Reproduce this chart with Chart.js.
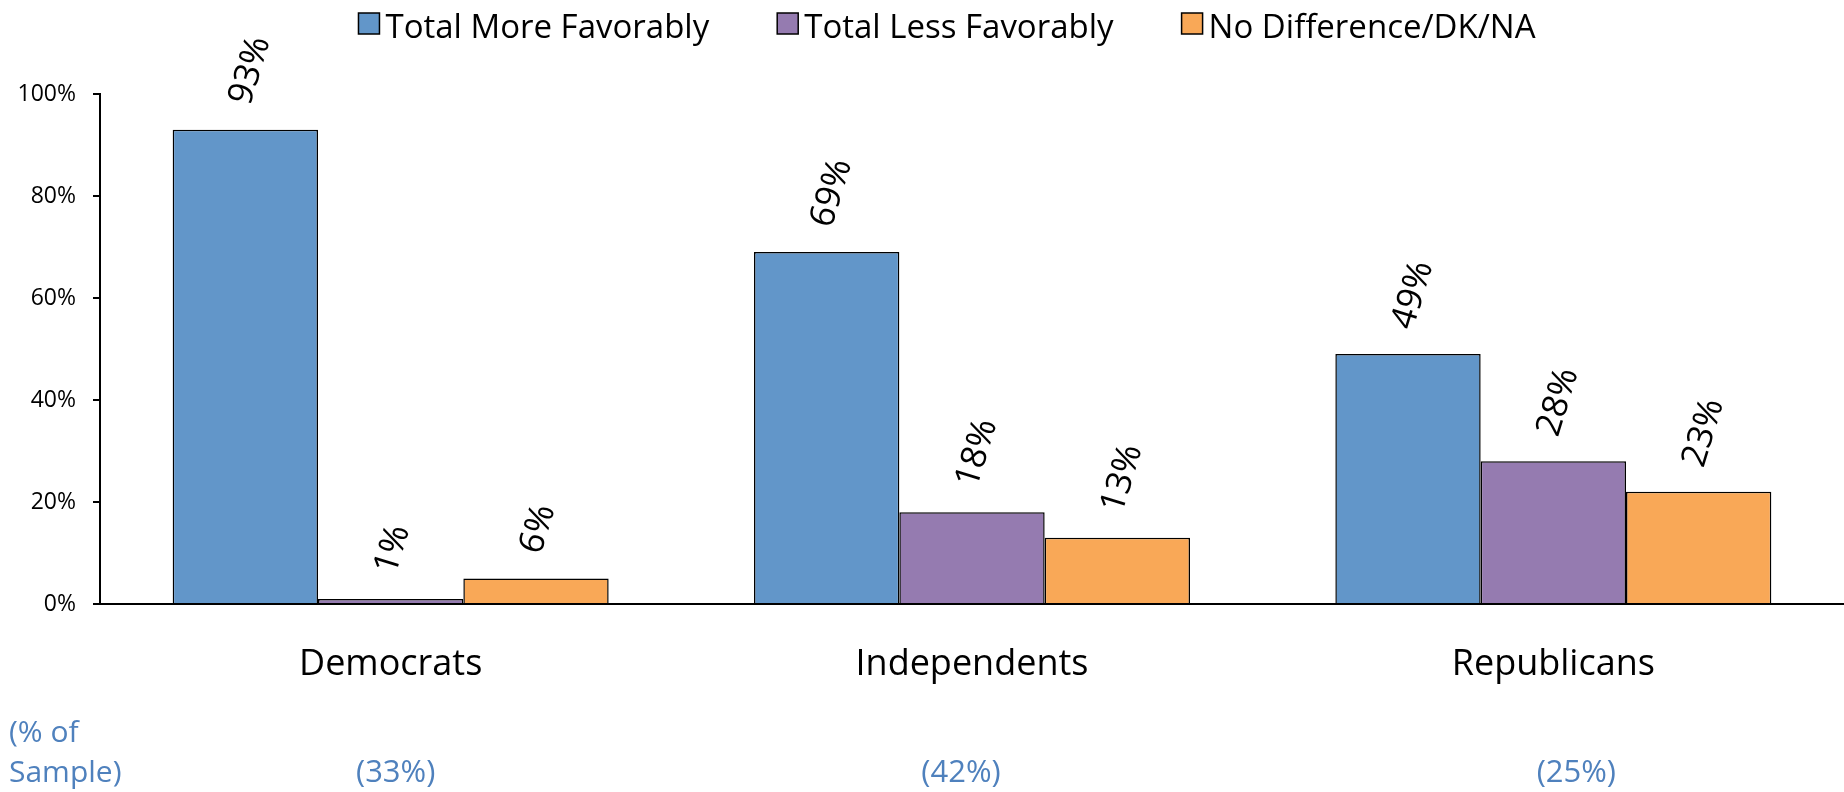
<!DOCTYPE html>
<html>
<head>
<meta charset="utf-8">
<script src="https://cdn.jsdelivr.net/npm/chart.js@4.4.1/dist/chart.umd.min.js"></script>
<style>
  html, body { margin: 0; padding: 0; background: #fff; }
  #wrap { width: 1844px; height: 792px; position: relative; }
</style>
</head>
<body>
<div id="wrap"><canvas id="partyChart"></canvas></div>
<script>
const categories = ["Democrats", "Independents", "Republicans"];
const seriesNames = ["Total More Favorably", "Total Less Favorably", "No Difference/DK/NA"];

// bar heights
const moreFavorably = [93, 69, 49];
const lessFavorably = [1, 18, 28];
const noDifference = [5, 13, 22];

// labels printed above the bars (not always equal to bar height in the source)
const moreLabels = ["93%", "69%", "49%"];
const lessLabels = ["1%", "18%", "28%"];
const noDiffLabels = ["6%", "13%", "23%"];

const sampleShare = ["(33%)", "(42%)", "(25%)"];
const yTicks = [0, 20, 40, 60, 80, 100];

const colors = ["#6296c9", "#957bb0", "#f9a857"];
const FONT = '"Open Sans", "Noto Sans", sans-serif';

// draws value labels, legend and sample shares
const annotate = {
  id: "annotate",
  afterDatasetsDraw(chart) {
    const ctx = chart.ctx;
    const shown = [moreLabels, lessLabels, noDiffLabels];
    ctx.save();

    chart.data.datasets.forEach(function (ds, i) {
      chart.getDatasetMeta(i).data.forEach(function (bar, j) {
        ctx.save();
        ctx.translate(bar.x - 5, bar.y - 26);
        ctx.rotate(-73 * Math.PI / 180);
        ctx.font = "35px " + FONT;
        ctx.fillStyle = "#000";
        ctx.textAlign = "left";
        ctx.textBaseline = "middle";
        ctx.fillText(shown[i][j], 0, 0);
        ctx.restore();
      });
    });

    // legend
    ctx.font = "33px " + FONT;
    const box = 21, gap = 6, spacing = 68;
    const widths = chart.data.datasets.map(function (ds) { return ctx.measureText(ds.label).width; });
    let total = spacing * (widths.length - 1);
    widths.forEach(function (w) { total += box + gap + w; });
    let x = 947 - total / 2;
    chart.data.datasets.forEach(function (ds, i) {
      ctx.fillStyle = ds.backgroundColor;
      ctx.fillRect(x, 13, box, box);
      ctx.lineWidth = 1.5;
      ctx.strokeStyle = "#000";
      ctx.strokeRect(x, 13, box, box);
      ctx.fillStyle = "#000";
      ctx.textAlign = "left";
      ctx.textBaseline = "alphabetic";
      ctx.fillText(ds.label, x + box + gap, 38);
      x += box + gap + widths[i] + spacing;
    });

    // sample share row
    const xScale = chart.scales.x;
    ctx.fillStyle = "#4f81bd";
    ctx.font = "30px " + FONT;
    ctx.textAlign = "left";
    ctx.fillText("(% of", 9, 742);
    ctx.fillText("Sample)", 9, 782);
    ctx.font = "31px " + FONT;
    ctx.textAlign = "center";
    const nudge = [5, -11, 23];
    sampleShare.forEach(function (s, i) {
      ctx.fillText(s, xScale.getPixelForValue(i) + nudge[i], 782);
    });

    ctx.restore();
  }
};

const ctx = document.getElementById("partyChart").getContext("2d");

const partyChart = new Chart(ctx, {
  type: "bar",
  data: {
    labels: categories,
    datasets: [
      { label: seriesNames[0], data: moreFavorably, backgroundColor: colors[0] },
      { label: seriesNames[1], data: lessFavorably, backgroundColor: colors[1] },
      { label: seriesNames[2], data: noDifference, backgroundColor: colors[2] },
    ],
  },
  options: {
    responsive: true,
    maintainAspectRatio: false,
    animation: false,
    devicePixelRatio: 1,
    layout: { padding: { top: 94, left: 0, right: 0, bottom: 0 } },
    datasets: {
      bar: {
        categoryPercentage: 0.75,
        barPercentage: 1.0,
        borderColor: "#000",
        borderWidth: 1.5,
        borderSkipped: "bottom",
      },
    },
    plugins: {
      legend: { display: false },
      tooltip: { enabled: false },
    },
    scales: {
      x: {
        grid: { display: false, drawTicks: false },
        border: { display: true, color: "#000", width: 2 },
        ticks: {
          color: "#000",
          font: { family: FONT, size: 36 },
          padding: 39,
          maxRotation: 0,
        },
        afterFit: function (scale) { scale.height = 188; },
      },
      y: {
        min: 0,
        max: 100,
        afterBuildTicks: function (scale) {
          scale.ticks = yTicks.map(function (v) { return { value: v }; });
        },
        grid: { drawOnChartArea: false, drawTicks: true, tickLength: 7, color: "#000", lineWidth: 2 },
        border: { display: true, color: "#000", width: 2 },
        ticks: {
          color: "#000",
          font: { family: FONT, size: 23 },
          padding: 17,
          callback: function (v) { return v + "%"; },
        },
        afterFit: function (scale) { scale.width = 100; },
      },
    },
  },
  plugins: [annotate],
});
</script>
</body>
</html>
